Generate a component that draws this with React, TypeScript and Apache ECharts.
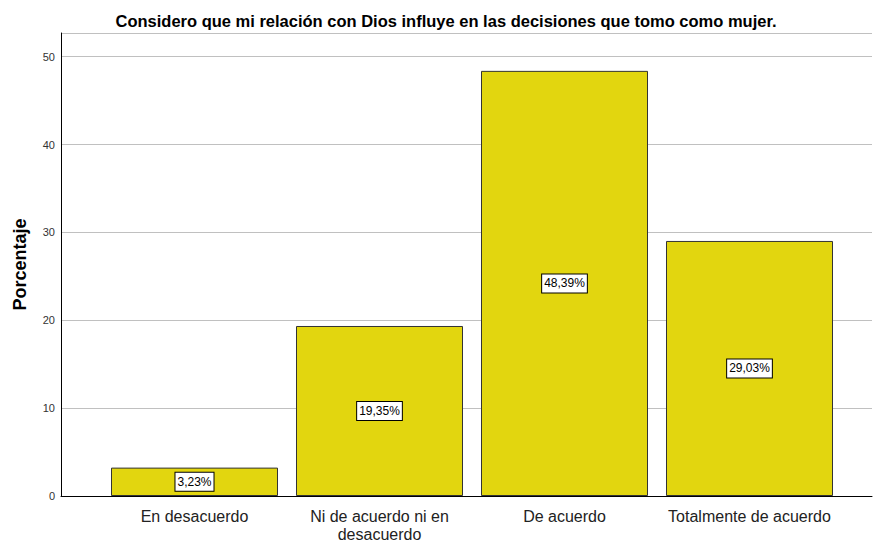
import React, { useEffect, useRef } from "react";
import * as echarts from "echarts";

const titleText = "Considero que mi relación con Dios influye en las decisiones que tomo como mujer.";
const categories = ["En desacuerdo", "Ni de acuerdo ni en\ndesacuerdo", "De acuerdo", "Totalmente de acuerdo"];
const values = [3.23, 19.35, 48.39, 29.03];
const yTicks = [0, 10, 20, 30, 40, 50];
const yMax = 52.7;

export default function App() {
  const ref = useRef<HTMLDivElement>(null);
  useEffect(() => {
    if (!ref.current) return;
    const chart = echarts.init(ref.current, undefined, { renderer: "svg" });
    const font = "Arial, 'Liberation Sans', sans-serif";
    chart.setOption({
      animation: false,
      backgroundColor: "#ffffff",
      title: {
        text: titleText,
        left: 441,
        textAlign: "center",
        top: 7,
        textStyle: { fontFamily: font, fontSize: 16.5, fontWeight: "bold", color: "#000" },
      },
      grid: [
        { left: 61, right: 1, top: 33, bottom: 51 },
        { left: 102, right: 31, top: 33, bottom: 51 },
      ],
      xAxis: [
        {
          type: "value",
          gridIndex: 0,
          min: 0,
          max: 1,
          axisLine: { show: true, onZero: false, lineStyle: { color: "#000", width: 1 } },
          axisTick: { show: false },
          axisLabel: { show: false },
          splitLine: { show: false },
        },
        {
          type: "category",
          gridIndex: 1,
          data: categories,
          axisLine: { show: false },
          axisTick: { show: false },
          axisLabel: {
            fontFamily: font,
            fontSize: 16,
            color: "#222",
            margin: 11,
            lineHeight: 18,
            interval: 0,
          },
        },
      ],
      yAxis: [
        {
          type: "value",
          gridIndex: 0,
          min: 0,
          max: yMax,
          interval: 10,
          name: "Porcentaje",
          nameLocation: "middle",
          nameGap: 32,
          nameTextStyle: { fontFamily: font, fontSize: 18, fontWeight: "bold", color: "#000" },
          axisLine: { show: true, lineStyle: { color: "#000", width: 1 } },
          axisTick: { show: false },
          axisLabel: {
            fontFamily: font,
            fontSize: 11,
            color: "#333",
            margin: 6,
            formatter: (v: number) => (yTicks.includes(v) ? String(v) : ""),
          },
          splitLine: { show: true, lineStyle: { color: "#c0c0c0", width: 1 } },
        },
        {
          type: "value",
          gridIndex: 1,
          min: 0,
          max: yMax,
          show: false,
          splitLine: { show: false },
        },
      ],
      series: [
        {
          type: "bar",
          xAxisIndex: 1,
          yAxisIndex: 1,
          data: values,
          barWidth: 167,
          itemStyle: { color: "#E2D60F", borderColor: "#333", borderWidth: 1 },
          label: {
            show: true,
            position: "inside",
            formatter: (p: any) => p.value.toFixed(2).replace(".", ",") + "%",
            fontFamily: font,
            fontSize: 12,
            color: "#000",
            backgroundColor: "#fff",
            borderColor: "#000",
            borderWidth: 1,
            padding: [2, 2],
            lineHeight: 14,
          },
        },
      ],
    });
    return () => chart.dispose();
  }, []);
  return <div ref={ref} style={{ position: "fixed", left: 0, top: 0, width: 873, height: 547 }} />;
}
